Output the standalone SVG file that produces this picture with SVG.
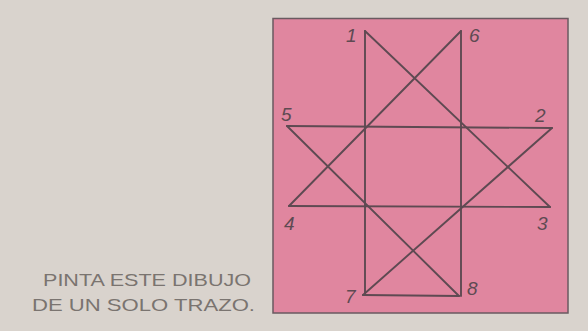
<svg xmlns="http://www.w3.org/2000/svg" width="588" height="331" viewBox="0 0 588 331">
<style>
.ln{stroke:#5e4a52;stroke-width:1.9;fill:none;stroke-linecap:round}
.num{font-family:"Liberation Sans",sans-serif;font-size:19px;font-style:italic;fill:#5e4a52}
.cap{font-family:"Liberation Sans",sans-serif;font-size:17px;fill:#7a7470}
</style>
<rect width="588" height="331" fill="#d9d3cd"/>
<g id="panel"><rect x="273" y="18.5" width="295" height="294.5" fill="#e0869f" stroke="#6a5a60" stroke-width="1.5"/></g>
<g id="connectors">
<line class="ln" x1="365" y1="31" x2="365" y2="295"/>
<line class="ln" x1="461" y1="31" x2="461" y2="296"/>
<line class="ln" x1="365" y1="31" x2="550" y2="207"/>
<line class="ln" x1="461" y1="31" x2="289" y2="206"/>
<line class="ln" x1="287" y1="126" x2="552" y2="128"/>
<line class="ln" x1="289" y1="206" x2="550" y2="207"/>
<line class="ln" x1="287" y1="126" x2="459" y2="296"/>
<line class="ln" x1="552" y1="128" x2="363" y2="295"/>
<line class="ln" x1="363" y1="295" x2="459" y2="296"/>
</g>
<g id="n1"><text class="num" x="346" y="42">1</text></g>
<g id="n6"><text class="num" x="469" y="42">6</text></g>
<g id="n5"><text class="num" x="281" y="121">5</text></g>
<g id="n2"><text class="num" x="535" y="122">2</text></g>
<g id="n4"><text class="num" x="284" y="230">4</text></g>
<g id="n3"><text class="num" x="537" y="230">3</text></g>
<g id="n7"><text class="num" x="345" y="303">7</text></g>
<g id="n8"><text class="num" x="467" y="295">8</text></g>
<g id="caption">
<text class="cap" x="43" y="286" textLength="208" lengthAdjust="spacingAndGlyphs">PINTA ESTE DIBUJO</text>
<text class="cap" x="32" y="311" textLength="223" lengthAdjust="spacingAndGlyphs">DE UN SOLO TRAZO.</text>
</g>
</svg>
